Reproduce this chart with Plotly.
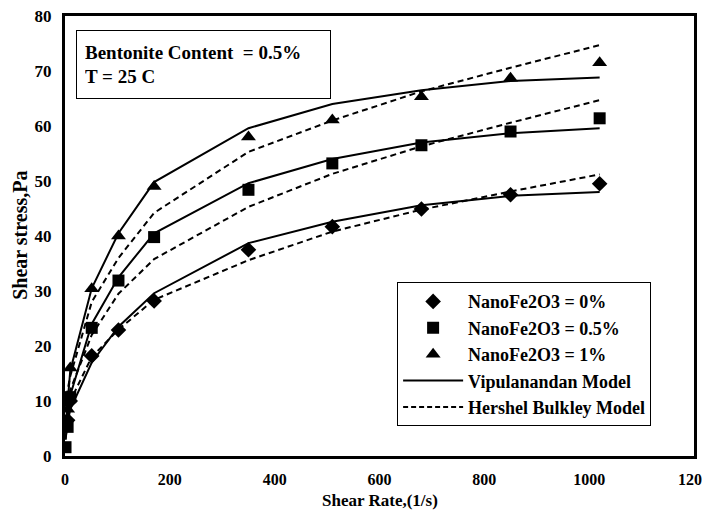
import plotly.graph_objects as go

# ---- data ----
x_d = [5, 10, 51, 102, 170, 350, 510, 680, 850, 1020]
y_d = [6.5, 10, 18.2, 22.9, 28.2, 37.5, 41.7, 44.9, 47.5, 49.5]

x_s = [1, 5, 10, 51, 102, 170, 350, 510, 680, 850, 1020]
y_s = [1.6, 5.3, 10.7, 23.3, 31.9, 39.8, 48.4, 53.2, 56.5, 59.0, 61.4]

x_t = [5, 10, 51, 102, 170, 350, 510, 680, 850, 1020]
y_t = [8.5, 16, 30.4, 40, 49, 58, 61.1, 65.3, 68.7, 71.5]

x_model = [1, 5, 10, 51, 102, 170, 350, 510, 680, 850, 1020]
vip_d = [3, 6, 8.5, 17, 23.5, 29.6, 38.7, 42.6, 45.6, 47.3, 48.0]
vip_s = [3, 7, 11, 24, 32.5, 40.5, 49.6, 54.0, 57.0, 58.7, 59.6]
vip_t = [5, 10, 15.5, 30.5, 40.5, 49.8, 59.6, 64.0, 66.5, 68.2, 68.8]

hb_d = [6, 8, 10, 18, 23, 28.4, 35.6, 40.8, 44.8, 48.1, 51.2]
hb_s = [6, 9, 12, 22, 29.5, 35.8, 45.3, 51.3, 56.3, 60.6, 64.7]
hb_t = [9, 12, 14.5, 28, 36, 44.2, 55.3, 61.0, 66.3, 70.6, 74.7]

x_ticks = [0, 200, 400, 600, 800, 1000, 1200]
y_ticks = [0, 10, 20, 30, 40, 50, 60, 70, 80]

FONT = "Liberation Serif"

fig = go.Figure()

# model curves (drawn first, under markers)
for yv in [vip_d, vip_s, vip_t]:
    fig.add_trace(go.Scatter(x=x_model, y=yv, mode="lines",
                             line=dict(color="black", width=2),
                             name="Vipulanandan Model", showlegend=False))
for yv in [hb_d, hb_s, hb_t]:
    fig.add_trace(go.Scatter(x=x_model, y=yv, mode="lines",
                             line=dict(color="black", width=2, dash="6px,4px"),
                             name="Hershel Bulkley Model", showlegend=False))

fig.add_trace(go.Scatter(x=x_d, y=y_d, mode="markers", name="NanoFe2O3 = 0%",
                         marker=dict(symbol="diamond", size=12, color="black"),
                         legendgroup="d"))
fig.add_trace(go.Scatter(x=x_s, y=y_s, mode="markers", name="NanoFe2O3 = 0.5%",
                         marker=dict(symbol="square", size=12, color="black"),
                         legendgroup="s"))
fig.add_trace(go.Scatter(x=x_t, y=y_t, mode="markers", name="NanoFe2O3 = 1%",
                         marker=dict(symbol="triangle-up", size=13, color="black"),
                         legendgroup="t"))

# legend-only entries for the lines
fig.add_trace(go.Scatter(x=[None], y=[None], mode="lines",
                         line=dict(color="black", width=2),
                         name="Vipulanandan Model", legendgroup="vip"))
fig.add_trace(go.Scatter(x=[None], y=[None], mode="lines",
                         line=dict(color="black", width=2, dash="5px,3px"),
                         name="Hershel Bulkley Model", legendgroup="hb"))

# page body has an 8px margin, so the figure is offset by (8, 8) in the window
fig.update_layout(
    width=702, height=502,
    margin=dict(l=57, r=16, t=8, b=54),
    paper_bgcolor="white", plot_bgcolor="white",
    font=dict(family=FONT, size=17, color="black", weight="bold"),
    showlegend=True,
    legend=dict(x=0.528, y=0.395, xanchor="left", yanchor="top",
                bgcolor="white", bordercolor="black", borderwidth=1,
                font=dict(family=FONT, size=18, color="black", weight="bold"),
                traceorder="grouped", tracegroupgap=0, itemwidth=60),
    xaxis=dict(range=[0, 1200], tickvals=x_ticks, showgrid=False, zeroline=False,
               showline=True, linecolor="black", linewidth=3, mirror=True,
               ticks="outside", ticklen=7, tickcolor="rgba(0,0,0,0)",
               automargin=False, ticklabeloverflow="allow",
               tickfont=dict(family=FONT, size=16, weight="bold")),
    yaxis=dict(range=[0, 80], tickvals=y_ticks, showgrid=False, zeroline=False,
               showline=True, linecolor="black", linewidth=3, mirror=True,
               ticks="outside", ticklen=7, tickcolor="rgba(0,0,0,0)",
               automargin=False, ticklabeloverflow="allow",
               tickfont=dict(family=FONT, size=17, weight="bold")),
)

fig.add_annotation(xref="paper", yref="paper", x=0.0175, y=0.968,
                   xanchor="left", yanchor="top", showarrow=False,
                   text="Bentonite Content  = 0.5%<br>T = 25 C", align="left",
                   font=dict(family=FONT, size=19, weight="bold"),
                   bordercolor="black", borderwidth=1, borderpad=8,
                   bgcolor="white", width=237, height=51)

fig.add_annotation(xref="paper", yref="paper", x=0.501, y=-0.102,
                   xanchor="center", yanchor="middle", showarrow=False,
                   text="Shear Rate,(1/s)",
                   font=dict(family=FONT, size=17, weight="bold"))
fig.add_annotation(xref="paper", yref="paper", x=-0.072, y=0.502,
                   xanchor="center", yanchor="middle", showarrow=False,
                   text="Shear stress,Pa", textangle=-90,
                   font=dict(family=FONT, size=20, weight="bold"))

fig.write_html("out.html")
